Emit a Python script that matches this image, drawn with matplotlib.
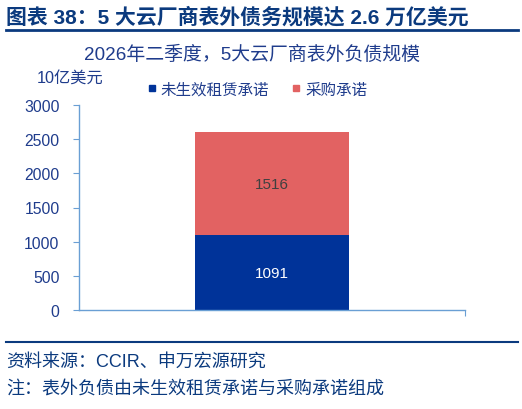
import matplotlib
matplotlib.use("Agg")
import matplotlib.pyplot as plt
from matplotlib.lines import Line2D

plt.rcParams['font.family'] = ['Liberation Sans', 'Noto Sans CJK SC', 'DejaVu Sans']

categories = ["2026Q2"]
lease = [1091]
purchase = [1516]
series_names = ["未生效租赁承诺", "采购承诺"]
yticks = [0, 500, 1000, 1500, 2000, 2500, 3000]

main_title = "图表 38：5 大云厂商表外债务规模达 2.6 万亿美元"
chart_title = "2026年二季度，5大云厂商表外负债规模"
unit = "10亿美元"
source = "资料来源：CCIR、申万宏源研究"
note = "注：表外负债由未生效租赁承诺与采购承诺组成"

BLUE = "#003399"
RED = "#E26262"
NAVY = "#0B3A7E"
TXT = "#1F3C8C"
AX = "#6A9FD4"

W, H = 522, 410
fig = plt.figure(figsize=(W/100, H/100), dpi=100)
ax = fig.add_axes([79/W, 1-311/H, (465-79)/W, (311-106)/H])

x = list(range(len(categories)))
ax.bar(x, lease, width=0.4, color=BLUE, zorder=2)
ax.bar(x, purchase, bottom=lease, width=0.4, color=RED, zorder=2)

for xi, v in zip(x, lease):
    ax.text(xi, v/2, f"{v}", ha='center', va='center', color='white', fontsize=11)
for xi, b, v in zip(x, lease, purchase):
    ax.text(xi, b + v/2, f"{v}", ha='center', va='center', color='#404040', fontsize=11)

ax.set_xlim(-0.5, 0.5)
ax.set_ylim(0, 3000)
ax.set_yticks(yticks)
ax.set_yticklabels([str(t) for t in yticks])
ax.set_xticks([0.5])
ax.set_xticklabels([""])
ax.tick_params(axis='y', colors=AX, labelcolor=TXT, labelsize=11.3, length=4, pad=10, direction='out')
ax.tick_params(axis='x', colors=AX, length=4, direction='out')
for s in ['top', 'right']:
    ax.spines[s].set_visible(False)
for s in ['left', 'bottom']:
    ax.spines[s].set_color(AX)
    ax.spines[s].set_linewidth(1.0)

handles = [Line2D([], [], marker='s', linestyle='', color=BLUE, markersize=5),
           Line2D([], [], marker='s', linestyle='', color=RED, markersize=5)]
fig.legend(handles, series_names, loc='center', bbox_to_anchor=(257/W, 1-90/H),
           ncol=2, frameon=False, fontsize=11.2, labelcolor=TXT,
           handlelength=0.6, handletextpad=0.3, columnspacing=1.4)

fig.text(6/W, 1-17/H, main_title, fontsize=15, fontweight='bold', color=NAVY, ha='left', va='center')
fig.add_artist(Line2D([6/W, 518/W], [1-31/H, 1-31/H], color=NAVY, linewidth=2))
fig.text(252/W, 1-55/H, chart_title, fontsize=13.6, color=TXT, ha='center', va='center')
fig.text(37/W, 1-78/H, unit, fontsize=11.7, color=TXT, ha='left', va='center')
fig.add_artist(Line2D([6/W, 518/W], [1-343/H, 1-343/H], color=NAVY, linewidth=1.5))
fig.text(6/W, 1-362/H, source, fontsize=13, color=NAVY, ha='left', va='center')
fig.text(6/W, 1-390/H, note, fontsize=13, color=NAVY, ha='left', va='center')

fig.savefig("out.png", dpi=100)
